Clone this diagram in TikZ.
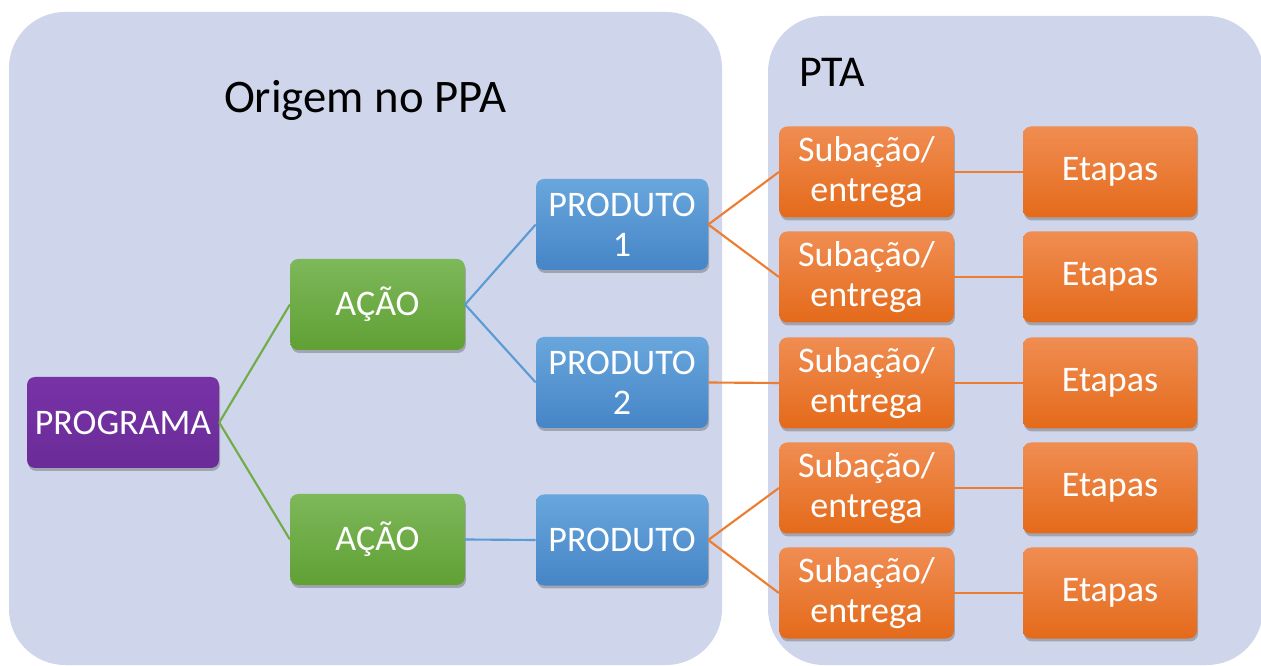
\documentclass[tikz,border=0pt]{standalone}
\usepackage{fontspec}
\setmainfont{Carlito}
\usetikzlibrary{shadows}
\definecolor{panel}{HTML}{CFD5EA}
\definecolor{purpA}{HTML}{7832A6}
\definecolor{purpB}{HTML}{6A2C98}
\definecolor{grnA}{HTML}{7DB85A}
\definecolor{grnB}{HTML}{60A034}
\definecolor{grnL}{HTML}{70AD47}
\definecolor{bluA}{HTML}{68A6DD}
\definecolor{bluB}{HTML}{4685C6}
\definecolor{bluL}{HTML}{5B9BD5}
\definecolor{orgA}{HTML}{F08D52}
\definecolor{orgB}{HTML}{E46A1A}
\definecolor{orgL}{HTML}{ED7D31}
\tikzset{
  box/.style={rounded corners=6pt, text=white, align=center,
    minimum height=68.25pt, inner sep=2pt,
    font=\fontsize{27}{30}\selectfont,
    drop shadow={shadow xshift=0.8pt, shadow yshift=-2.2pt, opacity=0.35, fill=black!70}},
  prog/.style={box, minimum width=144pt, top color=purpA, bottom color=purpB},
  acao/.style={box, minimum width=131pt, top color=grnA, bottom color=grnB},
  prod/.style={box, minimum width=129pt, top color=bluA, bottom color=bluB},
  sub/.style={box, minimum width=131pt, top color=orgA, bottom color=orgB},
  etp/.style={box, minimum width=130.5pt, top color=orgA, bottom color=orgB},
  gline/.style={draw=grnL, line width=1.6pt},
  bline/.style={draw=bluL, line width=1.6pt},
  oline/.style={draw=orgL, line width=1.6pt},
  panelbox/.style={fill=panel, rounded corners=42pt, draw=none}
}
\begin{document}
\begin{tikzpicture}[x=0.75pt,y=-0.75pt]
\useasboundingbox (0,0) rectangle (1261,666);
\begin{scope}
\clip (0,0) rectangle (1261,666);
\fill[white] (0,0) rectangle (1261,666);
\path[panelbox] (9,12) rectangle (722,665);
\path[panelbox] (768,16) rectangle (1263,665);
\end{scope}
\node[font=\fontsize{35}{40}\selectfont] (t1) at (365,100) {Origem no PPA};
\node[font=\fontsize{33}{38}\selectfont] (t2) at (832,72) {PTA};

\node[prog] (prog) at (123,422.5) {PROGRAMA};
\node[acao] (a1) at (377.5,304.5) {AÇÃO};
\node[acao] (a2) at (377.5,539.5) {AÇÃO};
\node[prod] (p1) at (622,224.5) {PRODUTO\\1};
\node[prod] (p2) at (622,382.5) {PRODUTO\\2};
\node[prod] (p3) at (622,540) {PRODUTO};
\foreach \i/\y in {1/172,2/277,3/383,4/488,5/593}{
  \node[sub] (s\i) at (866.5,\y) {Subação/\\entrega};
  \node[etp] (e\i) at (1110,\y) {Etapas};
}
\begin{scope}[on background layer/.try]
\end{scope}
\draw[gline] (prog.east) -- (a1.west);
\draw[gline] (prog.east) -- (a2.west);
\draw[bline] (a1.east) -- (p1.west);
\draw[bline] (a1.east) -- (p2.west);
\draw[bline] (a2.east) -- (p3.west);
\draw[oline] (p1.east) -- (s1.west);
\draw[oline] (p1.east) -- (s2.west);
\draw[oline] (p2.east) -- (s3.west);
\draw[oline] (p3.east) -- (s4.west);
\draw[oline] (p3.east) -- (s5.west);
\foreach \i in {1,...,5}{
  \draw[oline] (s\i.east) -- (e\i.west);
}
\end{tikzpicture}
\end{document}
